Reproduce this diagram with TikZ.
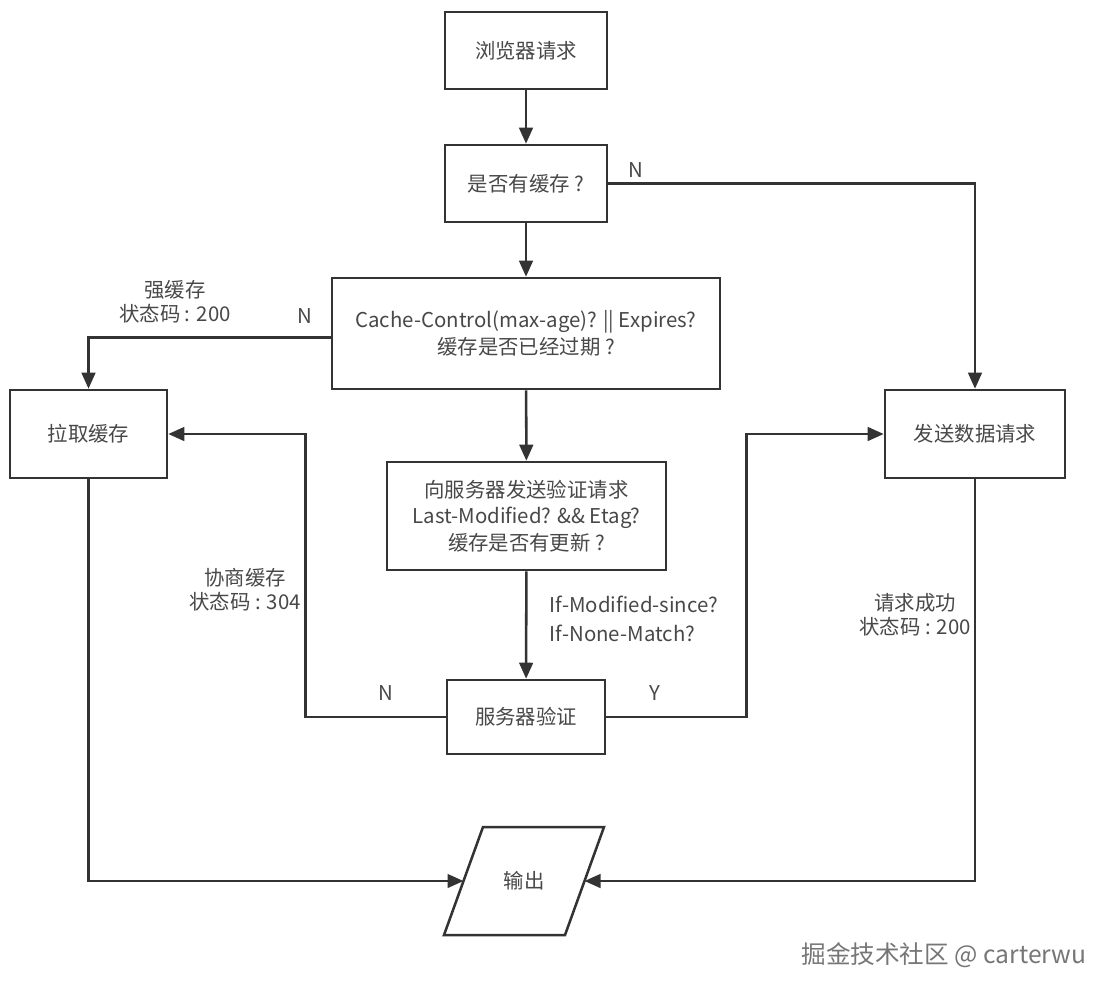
\documentclass[tikz,border=0pt]{standalone}
\usepackage{fontspec}
\setmainfont{Noto Sans CJK SC}
\usetikzlibrary{shapes.geometric, arrows.meta, positioning}
\definecolor{linegray}{RGB}{51, 51, 51}
\definecolor{textgray}{RGB}{72, 72, 72}
\definecolor{markgray}{RGB}{118, 118, 118}

\begin{document}
\begin{tikzpicture}[x=0.025cm, y=-0.025cm,
    box/.style={draw=linegray, line width=1.8pt, fill=white, text=textgray, align=center, inner sep=0pt, font=\fontsize{14.5}{19}\selectfont},
    edge/.style={draw=linegray, line width=1.8pt, line join=miter},
    flow/.style={draw=linegray, line width=1.8pt, -{Triangle[length=0.4cm, width=0.34cm]}},
    lbl/.style={text=textgray, align=center, font=\fontsize{14.5}{17}\selectfont}]
        \useasboundingbox (0,0) rectangle (1118,996);

        % Request and cache check
        \node[box, minimum width=4.05cm, minimum height=1.925cm] (req) at (526,50.5) {浏览器请求};
        \node[box, minimum width=4.05cm, minimum height=1.925cm] (has) at (526,183.5) {是否有缓存 ?};

        % Expiry check
        \node[box, minimum width=9.7cm, minimum height=2.775cm] (expire) at (526,333.5) {Cache-Control(max-age)? || Expires?\\缓存是否已经过期 ?};

        % Validation request
        \node[box, minimum width=6.975cm, minimum height=2.7cm] (ask) at (526.5,516) {向服务器发送验证请求\\Last-Modified? \&\& Etag?\\缓存是否有更新 ?};
        \node[box, minimum width=3.95cm, minimum height=1.85cm] (check) at (526,717) {服务器验证};

        % Side paths
        \node[box, minimum width=3.925cm, minimum height=2.2cm] (pull) at (88.5,434) {拉取缓存};
        \node[box, minimum width=4.5cm, minimum height=2.2cm] (send) at (975,434) {发送数据请求};

        % Output (parallelogram)
        \draw[edge] (524,881) ++(-41,-54) -- ++(121,0) -- ++(-39,108) -- ++(-121,0) -- cycle;
        \node[box, draw=none, fill=none] (out) at (524,881) {输出};
        \coordinate (outw) at (463.5,881);
        \coordinate (oute) at (584.5,881);

        % Arrows
        \draw[flow] (req) -- (has);
        \draw[flow] (has) -- (expire);
        \draw[flow] (has.east) -| (send.north);
        \draw[flow] (expire.west) ++(0,4) -| (pull.north);
        \draw[flow] (expire) -- (ask);
        \draw[flow] (ask) -- (check);
        \draw[flow] (check.west) -- ++(-140,0) |- (pull.east);
        \draw[flow] (check.east) -- ++(140,0) |- (send.west);
        \draw[flow] (pull.south) |- (outw);
        \draw[flow] (send.south) |- (oute);

        % Labels
        \node[lbl] (nhas) at (636,170) {N};
        \node[lbl] (nexp) at (305,316) {N};
        \node[lbl] (strong) at (175,302) {强缓存\\状态码 : 200};
        \node[lbl, anchor=west] (ifmod) at (545,604) {If-Modified-since?};
        \node[lbl, anchor=west] (ifnone) at (545,633) {If-None-Match?};
        \node[lbl] (nchk) at (386,693) {N};
        \node[lbl] (ychk) at (655,693) {Y};
        \node[lbl] (nego) at (245,590) {协商缓存\\状态码 : 304};
        \node[lbl] (ok) at (915,615) {请求成功\\状态码 : 200};

        % Watermark
        \node[text=markgray, font=\fontsize{17.5}{20}\selectfont] (mark) at (944,955) {掘金技术社区 @ carterwu};
    \end{tikzpicture}
\end{document}
